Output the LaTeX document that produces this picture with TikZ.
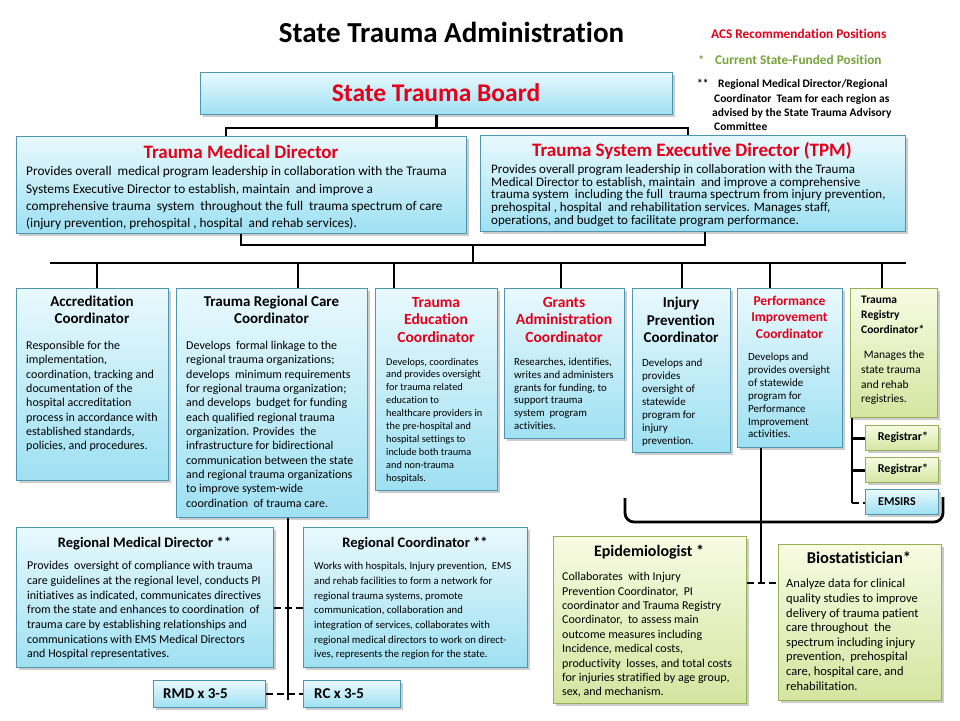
\documentclass[tikz,border=0pt]{standalone}
\usepackage{fontspec}
\setmainfont[Ligatures=NoCommon]{Carlito}
\usetikzlibrary{shadows}
\definecolor{tred}{RGB}{226,0,26}
\definecolor{lgreen}{RGB}{119,165,60}
\definecolor{bluetop}{RGB}{232,249,253}
\definecolor{bluebot}{RGB}{158,224,242}
\definecolor{blueedge}{RGB}{78,150,176}
\definecolor{greentop}{RGB}{247,251,226}
\definecolor{greenbot}{RGB}{212,229,160}
\definecolor{greenedge}{RGB}{150,176,88}
\newcommand\fsz[2]{\fontsize{#1}{#2}\selectfont}
\tikzset{
 boxbase/.style={rectangle, inner sep=0pt, line width=1.3pt, anchor=north west,
   drop shadow={shadow xshift=2pt, shadow yshift=-2.5pt, opacity=0.4}},
 bluebox/.style={boxbase, draw=blueedge, top color=bluetop, bottom color=bluebot},
 greenbox/.style={boxbase, draw=greenedge, top color=greentop, bottom color=greenbot},
 conn/.style={line width=2.8pt, black},
 dconn/.style={conn, dash pattern=on 7pt off 4pt},
 ttl/.style={anchor=base, align=center, inner sep=0pt},
 body/.style={anchor=base west, align=left, inner sep=0pt},
}
\begin{document}
\begin{tikzpicture}[x=1pt,y=-1pt]
\fill[white] (0,0) rectangle (960,720);
\useasboundingbox (0,0) rectangle (960,720);

% title and legend (multi-line nodes are placed by the baseline of their LAST line)
\node[inner sep=0pt, font=\fsz{29}{34}\bfseries] (title) at (451.5,32) {State Trauma Administration};
\node[body, font=\fsz{13.3}{15}\bfseries, text=tred] (acs) at (711,38.5) {ACS Recommendation Positions};
\node[body, font=\fsz{12.5}{15}\bfseries, text=lgreen] (star) at (698,64.5) {*};
\node[body, font=\fsz{13.3}{15}\bfseries, text=lgreen] (cur) at (715,64.5) {Current State-Funded Position};
\node[body, font=\fsz{11.5}{14.3}\bfseries] (dstar) at (697,87.7) {**};
\node[body, font=\fsz{11.5}{14.3}\bfseries] (note) at (712,130.7) {\hspace{6pt}Regional Medical Director/Regional\\\hspace{2pt}Coordinator\ \ Team for each region as\\advised by the State Trauma Advisory\\\hspace{2pt}Committee};

% boxes
\node[bluebox, minimum width=472pt, minimum height=42pt] (board) at (200,72) {};
\node[font=\fsz{25.5}{30}\bfseries, text=tred, inner sep=0pt] (boardt) at (436,93) {State Trauma Board};

\node[bluebox, minimum width=450pt, minimum height=97pt] (tmd) at (16,136) {};
\node[ttl, font=\fsz{19}{22}\bfseries, text=tred] (tmdt) at (241,158.8) {Trauma Medical Director};
\node[body, font=\fsz{13.3}{17.2}] (tmdb) at (26,227.4) {Provides overall\ \ medical program leadership in collaboration with the Trauma\\Systems Executive Director to establish, maintain\ \ and improve a\\comprehensive trauma\ \ system\ \ throughout the full\ \ trauma spectrum of care\\(injury prevention, prehospital , hospital\ \ and rehab services).};

\node[bluebox, minimum width=425pt, minimum height=96pt] (tsed) at (480,135) {};
\node[ttl, font=\fsz{19}{22}\bfseries, text=tred] (tsedt) at (692,156) {Trauma System Executive Director (TPM)};
\node[body, font=\fsz{13}{12.8}] (tsedb) at (491,224.4) {Provides overall program leadership in collaboration with the Trauma\\Medical Director to establish, maintain\ \ and improve a comprehensive\\trauma system\ \ including the full\ \ trauma spectrum from injury prevention,\\prehospital , hospital\ \ and rehabilitation services. Manages staff,\\operations, and budget to facilitate program performance.};

% row 2
\node[bluebox, minimum width=152pt, minimum height=192pt] (acc) at (16,288) {};
\node[ttl, font=\fsz{15}{17}\bfseries] (acct) at (92,323.8) {Accreditation\\Coordinator};
\node[body, font=\fsz{12}{14.3}] (accb) at (26,449.6) {Responsible for the\\implementation,\\coordination, tracking and\\documentation of the\\hospital accreditation\\process in accordance with\\established standards,\\policies, and procedures.};

\node[bluebox, minimum width=191pt, minimum height=229pt] (trcc) at (176,288) {};
\node[ttl, font=\fsz{15}{17}\bfseries] (trcct) at (271.5,323.8) {Trauma Regional Care\\Coordinator};
\node[body, font=\fsz{12}{14.33}] (trccb) at (186,507.1) {Develops\ \ formal linkage to the\\regional trauma organizations;\\develops\ \ minimum requirements\\for regional trauma organization;\\and develops\ \ budget for funding\\each qualified regional trauma\\organization. Provides\ \ the\\infrastructure for bidirectional\\communication between the state\\and regional trauma organizations\\to improve system-wide\\coordination\ \ of trauma care.};

\node[bluebox, minimum width=122pt, minimum height=202pt] (edu) at (375,288) {};
\node[ttl, font=\fsz{15.5}{17.5}\bfseries, text=tred] (edut) at (436,342) {Trauma\\Education\\Coordinator};
\node[body, font=\fsz{10.3}{12.9}] (edub) at (386,481.1) {Develops, coordinates\\and provides oversight\\for trauma related\\education to\\healthcare providers in\\the pre-hospital and\\hospital settings to\\include both trauma\\and non-trauma\\hospitals.};

\node[bluebox, minimum width=120pt, minimum height=150pt] (grants) at (504,288) {};
\node[ttl, font=\fsz{15.5}{17.5}\bfseries, text=tred] (grantst) at (564,342) {Grants\\Administration\\Coordinator};
\node[body, font=\fsz{10.8}{12.9}] (grantsb) at (514,429.7) {Researches, identifies,\\writes and administers\\grants for funding, to\\support trauma\\system\ \ program\\activities.};

\node[bluebox, minimum width=98pt, minimum height=164pt] (injury) at (632,288) {};
\node[ttl, font=\fsz{15}{17.5}\bfseries] (injuryt) at (681,342.8) {Injury\\Prevention\\Coordinator};
\node[body, font=\fsz{11}{13}] (injuryb) at (642,444.5) {Develops and\\provides\\oversight of\\statewide\\program for\\injury\\prevention.};

\node[bluebox, minimum width=105pt, minimum height=159pt] (pi) at (737,288) {};
\node[ttl, font=\fsz{13.5}{16.5}\bfseries, text=tred] (pit) at (789.5,338.3) {Performance\\Improvement\\Coordinator};
\node[body, font=\fsz{11}{12.9}] (pib) at (748,437.9) {Develops and\\provides oversight\\of statewide\\program for\\Performance\\Improvement\\activities.};

\node[greenbox, minimum width=87pt, minimum height=129pt] (reg) at (850,288) {};
\node[body, font=\fsz{11.5}{15}\bfseries] (regt) at (861,333.7) {Trauma\\Registry\\Coordinator*};
\node[body, font=\fsz{11.5}{14.7}] (regb) at (861,402.8) {\ Manages the\\state trauma\\and rehab\\registries.};

\node[greenbox, minimum width=73pt, minimum height=25pt] (registrar1) at (865,425) {};
\node[font=\fsz{12}{14}\bfseries, inner sep=0pt] (r1t) at (903,437.5) {Registrar*};
\node[greenbox, minimum width=73pt, minimum height=25pt] (registrar2) at (865,457) {};
\node[font=\fsz{12}{14}\bfseries, inner sep=0pt] (r2t) at (903,469.5) {Registrar*};
\node[bluebox, minimum width=73pt, minimum height=25pt] (emsirs) at (865,489) {};
\node[anchor=west, font=\fsz{12}{14}\bfseries, inner sep=0pt] (emt) at (878,501.5) {EMSIRS};

% regional row
\node[bluebox, minimum width=257pt, minimum height=140pt] (rmd) at (16,527) {};
\node[ttl, font=\fsz{14.5}{16}\bfseries] (rmdt) at (144.5,547.6) {Regional Medical Director **};
\node[body, font=\fsz{12}{14.67}] (rmdb) at (27,657.8) {Provides\ \ oversight of compliance with trauma\\care guidelines at the regional level, conducts PI\\initiatives as indicated, communicates directives\\from the state and enhances to coordination\ \ of\\trauma care by establishing relationships and\\communications with EMS Medical Directors\\and Hospital representatives.};

\node[bluebox, minimum width=224pt, minimum height=140pt] (rc) at (303,527) {};
\node[ttl, font=\fsz{14.5}{16}\bfseries] (rct) at (415,547.6) {Regional Coordinator **};
\node[body, font=\fsz{10.7}{14.67}] (rcb) at (314,657.8) {Works with hospitals, Injury prevention,\ \ EMS\\and rehab facilities to form a network for\\regional trauma systems, promote\\communication, collaboration and\\integration of services, collaborates with\\regional medical directors to work on direct-\\ives, represents the region for the state.};

\node[bluebox, minimum width=112pt, minimum height=27pt] (rmdx) at (153,680) {};
\node[anchor=west, font=\fsz{15}{17}\bfseries, inner sep=0pt] (rmdxt) at (163,693.5) {RMD x 3-5};
\node[bluebox, minimum width=97pt, minimum height=27pt] (rcx) at (303,680) {};
\node[anchor=west, font=\fsz{15}{17}\bfseries, inner sep=0pt] (rcxt) at (314,693.5) {RC x 3-5};

% epi / bio
\node[greenbox, minimum width=193pt, minimum height=167pt] (epi) at (553,536) {};
\node[ttl, font=\fsz{16}{18}\bfseries] (epit) at (649,556) {Epidemiologist *};
\node[body, font=\fsz{12}{14.375}] (epib) at (562,695.8) {Collaborates\ \ with Injury\\Prevention Coordinator,\ \ PI\\coordinator and Trauma Registry\\Coordinator,\ \ to assess main\\outcome measures including\\Incidence, medical costs,\\productivity\ \ losses, and total costs\\for injuries stratified by age group,\\sex, and mechanism.};

\node[greenbox, minimum width=163pt, minimum height=156pt] (bio) at (778,544) {};
\node[ttl, font=\fsz{16.5}{18}\bfseries] (biot) at (859,563) {Biostatistician*};
\node[body, font=\fsz{12.5}{14.6}] (biob) at (786,690) {Analyze data for clinical\\quality studies to improve\\delivery of trauma patient\\care throughout\ \ the\\spectrum including injury\\prevention,\ \ prehospital\\care, hospital care, and\\rehabilitation.};

% connectors: board
\coordinate (bL) at (226,128);
\coordinate (bR) at (688,128);
\draw[conn] (board.south) -- (board.south |- bL);
\draw[conn] (tmd.north -| bL) -- (bL) -- (bR) -- (tsed.north -| bR);

% directors to bus
\coordinate (mL) at (241,245);
\coordinate (mR) at (705,245);
\coordinate (mC) at (473,245);
\coordinate (busC) at (473,263);
\draw[conn] (tmd.south -| mL) -- (mL) -- (mR) -- (tsed.south -| mR);
\draw[conn] (mC) -- (busC);
\coordinate (busL) at (50,263);
\coordinate (busR) at (906,263);
\draw[conn] (busL) -- (busR);
\foreach \x/\n in {97/acc,298/trcc,394/edu,561/grants,682/injury,770/pi,882/reg}{
  \coordinate (s\n) at (\x,263);
  \draw[conn] (s\n) -- (s\n |- \n.north);
}

% registry branch
\coordinate (rgx) at (852,503);
\draw[conn] (reg.south -| rgx) -- (rgx);
\draw[conn] (registrar1.west -| rgx) -- (registrar1.west);
\draw[conn] (registrar2.west -| rgx) -- (registrar2.west);
\draw[dconn] (rgx) -- (rgx -| emsirs.west);

% brace and PI line
\coordinate (brL) at (625,498);
\coordinate (brR) at (943,497);
\coordinate (piX) at (761,522);
\coordinate (dashC) at (761,583);
\draw[conn, rounded corners=9pt] (brL) -- (625,522) -- (943,522) -- (brR);
\draw[conn] (pi.south -| piX) -- (dashC);
\draw[dconn] (dashC -| epi.east) -- (dashC -| bio.west);

% regional lines
\coordinate (tX) at (288,700);
\coordinate (d1) at (288,608);
\coordinate (d2) at (288,694);
\draw[conn] (trcc.south -| tX) -- (tX);
\draw[dconn] (d1 -| rmd.east) -- (d1 -| rc.west);
\draw[dconn] (d2 -| rmdx.east) -- (d2 -| rcx.west);
\end{tikzpicture}
\end{document}
